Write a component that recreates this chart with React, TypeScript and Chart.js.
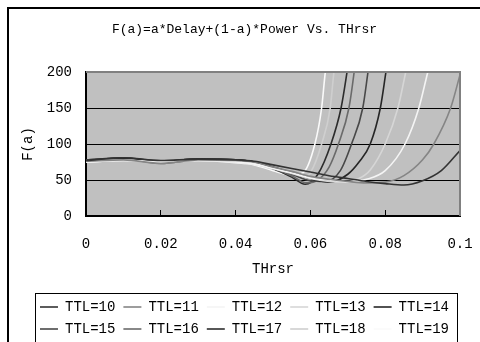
import React, { useEffect, useRef } from 'react';
import { Chart, registerables } from 'chart.js';

Chart.register(...registerables);

const chartTitle = 'F(a)=a*Delay+(1-a)*Power Vs. THrsr';
const xAxisTitle = 'THrsr';
const yAxisTitle = 'F(a)';
const xTickLabels = ['0', '0.02', '0.04', '0.06', '0.08', '0.1'];
const yTickValues = [0, 50, 100, 150, 200];

const seriesLabels = ['TTL=10', 'TTL=11', 'TTL=12', 'TTL=13', 'TTL=14', 'TTL=15', 'TTL=16', 'TTL=17', 'TTL=18', 'TTL=19'];
const seriesColors = ['#333333', '#858585', '#f4f4f4', '#d6d6d6', '#262626', '#484848', '#6a6a6a', '#2c2c2c', '#cfcfcf', '#fafafa'];

const x10 = [0, 0.01, 0.02, 0.03, 0.04, 0.045, 0.05, 0.055, 0.06, 0.065, 0.07, 0.075, 0.08, 0.085, 0.09, 0.095, 0.1];
const y10 = [77, 81, 77, 79, 78, 76, 71, 66, 61, 56, 52, 48, 45, 43, 49, 63, 91];
const x11 = [0, 0.01, 0.02, 0.03, 0.04, 0.045, 0.05, 0.055, 0.06, 0.065, 0.07, 0.075, 0.08, 0.085, 0.09, 0.093, 0.0975, 0.1];
const y11 = [76, 78, 73, 78, 77, 75, 68, 62, 55, 51, 48, 46, 47, 56, 78, 100, 150, 196];
const x12 = [0, 0.01, 0.02, 0.03, 0.04, 0.045, 0.05, 0.055, 0.06, 0.065, 0.07, 0.075, 0.08, 0.0853, 0.089, 0.0914, 0.094];
const y12 = [75, 77, 76, 77, 75, 72, 66, 60, 53, 50, 48, 51, 63, 100, 150, 200, 250];
const x13 = [0, 0.01, 0.02, 0.03, 0.04, 0.045, 0.05, 0.055, 0.06, 0.065, 0.07, 0.073, 0.076, 0.08, 0.0834, 0.0855, 0.088];
const y13 = [76, 78, 74, 78, 76, 73, 66, 59, 52, 48, 47, 52, 64, 100, 150, 200, 260];
const x14 = [0, 0.01, 0.02, 0.03, 0.04, 0.045, 0.05, 0.055, 0.06, 0.065, 0.07, 0.073, 0.076, 0.0787, 0.0802, 0.082];
const y14 = [77, 80, 76, 79, 78, 75, 68, 60, 52, 47, 58, 75, 100, 150, 200, 260];
const x15 = [0, 0.01, 0.02, 0.03, 0.04, 0.045, 0.05, 0.055, 0.06, 0.064, 0.068, 0.071, 0.074, 0.0754, 0.077];
const y15 = [78, 80, 75, 79, 78, 75, 67, 58, 49, 48, 63, 100, 150, 200, 260];
const x16 = [0, 0.01, 0.02, 0.03, 0.04, 0.045, 0.05, 0.055, 0.059, 0.062, 0.065, 0.0675, 0.0703, 0.0717, 0.073];
const y16 = [77, 79, 73, 78, 77, 74, 66, 56, 46, 50, 68, 100, 150, 200, 260];
const x17 = [0, 0.01, 0.02, 0.03, 0.04, 0.045, 0.05, 0.055, 0.0586, 0.062, 0.0655, 0.0682, 0.0698, 0.0715];
const y17 = [78, 81, 76, 79, 78, 75, 66, 54, 44, 58, 100, 150, 200, 260];
const x18 = [0, 0.01, 0.02, 0.03, 0.04, 0.045, 0.05, 0.055, 0.058, 0.06, 0.063, 0.0653, 0.0663, 0.068];
const y18 = [76, 77, 74, 77, 75, 72, 65, 56, 53, 60, 100, 150, 200, 260];
const x19 = [0, 0.01, 0.02, 0.03, 0.04, 0.045, 0.05, 0.055, 0.058, 0.0612, 0.063, 0.064, 0.066];
const y19 = [75, 77, 76, 77, 74, 71, 63, 57, 60, 100, 150, 200, 260];

const seriesX = [x10, x11, x12, x13, x14, x15, x16, x17, x18, x19];
const seriesY = [y10, y11, y12, y13, y14, y15, y16, y17, y18, y19];

const FONT = "'Liberation Mono', 'DejaVu Sans Mono', monospace";

const plotFrame = {
  id: 'plotFrame',
  beforeDraw(chart: any) {
    const { ctx, chartArea } = chart;
    ctx.save();
    ctx.fillStyle = '#c0c0c0';
    ctx.fillRect(chartArea.left, chartArea.top, chartArea.right - chartArea.left, chartArea.bottom - chartArea.top);
    ctx.restore();
  },
  afterDatasetsDraw(chart: any) {
    const { ctx, chartArea } = chart;
    ctx.save();
    ctx.strokeStyle = '#808080';
    ctx.lineWidth = 2;
    ctx.beginPath();
    ctx.moveTo(chartArea.left, chartArea.top);
    ctx.lineTo(chartArea.right, chartArea.top);
    ctx.lineTo(chartArea.right, chartArea.bottom);
    ctx.stroke();
    ctx.restore();
  },
  afterDraw(chart: any) {
    const legend = chart.legend;
    if (!legend || !legend.legendHitBoxes || !legend.legendHitBoxes.length) return;
    const boxes = legend.legendHitBoxes;
    let minL = Infinity;
    let maxR = -Infinity;
    boxes.forEach((b: any) => {
      minL = Math.min(minL, b.left);
      maxR = Math.max(maxR, b.left + b.width);
    });
    const { ctx } = chart;
    ctx.save();
    ctx.strokeStyle = '#000';
    ctx.lineWidth = 1;
    ctx.strokeRect(Math.round(minL - 5) + 0.5, Math.round(legend.top + 1) + 0.5, Math.round(maxR - minL + 13), legend.height + 10);
    ctx.restore();
  },
};

export default function App() {
  const canvasRef = useRef<HTMLCanvasElement | null>(null);

  useEffect(() => {
    const canvas = canvasRef.current;
    if (!canvas) return;
    const datasets = seriesLabels.map((label, i) => ({
      label,
      data: seriesX[i].map((xv, j) => ({ x: xv, y: seriesY[i][j] })),
      borderColor: seriesColors[i],
      backgroundColor: seriesColors[i],
      borderWidth: 1.6,
      pointRadius: 0,
      pointHoverRadius: 0,
      fill: false,
      cubicInterpolationMode: 'monotone' as const,
      yAxisID: 'y',
      xAxisID: 'x',
    }));

    const chart = new Chart(canvas, {
      type: 'line',
      data: { datasets },
      plugins: [plotFrame],
      options: {
        animation: false,
        responsive: false,
        devicePixelRatio: 1,
        layout: { padding: 0 },
        events: [],
        plugins: {
          tooltip: { enabled: false },
          title: {
            display: true,
            text: chartTitle,
            color: '#000',
            font: { family: FONT, size: 13, weight: 'normal' },
            padding: { top: 13, bottom: 34.4 },
          },
          legend: {
            display: true,
            position: 'bottom',
            labels: {
              usePointStyle: true,
              pointStyle: 'line',
              pointStyleWidth: 18,
              padding: 8,
              color: '#000',
              font: { family: FONT, size: 14 },
            },
          },
        },
        scales: {
          x: {
            type: 'linear',
            position: 'bottom',
            min: 0,
            max: 0.1,
            afterFit: (s: any) => { s.height = 76; s.paddingLeft = 0; s.paddingRight = 0; },
            ticks: {
              stepSize: 0.02,
              autoSkip: false,
              maxRotation: 0,
              padding: 26,
              color: '#000',
              font: { family: FONT, size: 14 },
              callback: (v: any) => xTickLabels[Math.round(Number(v) / 0.02)] ?? '',
            },
            grid: {
              drawOnChartArea: false,
              drawTicks: true,
              tickLength: -6,
              color: '#000',
              tickColor: '#000',
              tickWidth: 1,
            },
            border: { display: true, color: '#000', width: 2 },
            title: {
              display: true,
              text: xAxisTitle,
              color: '#000',
              font: { family: FONT, size: 14 },
              padding: { top: 0, bottom: 14 },
            },
          },
          y: {
            type: 'linear',
            position: 'left',
            min: 0,
            max: 200,
            afterFit: (s: any) => { s.width = 77; s.paddingTop = 0; s.paddingBottom = 0; },
            afterBuildTicks: (s: any) => { s.ticks = yTickValues.map((v) => ({ value: v })); },
            ticks: {
              padding: 14,
              color: '#000',
              font: { family: FONT, size: 14 },
            },
            grid: {
              drawTicks: false,
              color: '#000',
              lineWidth: 1,
            },
            border: { display: true, color: '#000', width: 2 },
            title: {
              display: true,
              text: yAxisTitle,
              color: '#000',
              font: { family: FONT, size: 14 },
              padding: { top: 11, bottom: 0 },
            },
          },
          yR: {
            type: 'linear',
            position: 'right',
            display: true,
            afterFit: (s: any) => { s.width = 20; s.paddingTop = 0; s.paddingBottom = 0; },
            ticks: { display: false },
            grid: { display: false, drawTicks: false },
            border: { display: false },
          },
        },
      } as any,
    });
    return () => chart.destroy();
  }, []);

  return (
    <div
      style={{
        position: 'fixed',
        left: 7,
        top: 7,
        width: 490,
        height: 335,
        overflow: 'hidden',
        borderLeft: '2px solid #000',
        borderTop: '2px solid #000',
        boxSizing: 'border-box',
        background: '#fff',
      }}
    >
      <canvas ref={canvasRef} width={471} height={337} style={{ display: 'block' }} />
    </div>
  );
}
